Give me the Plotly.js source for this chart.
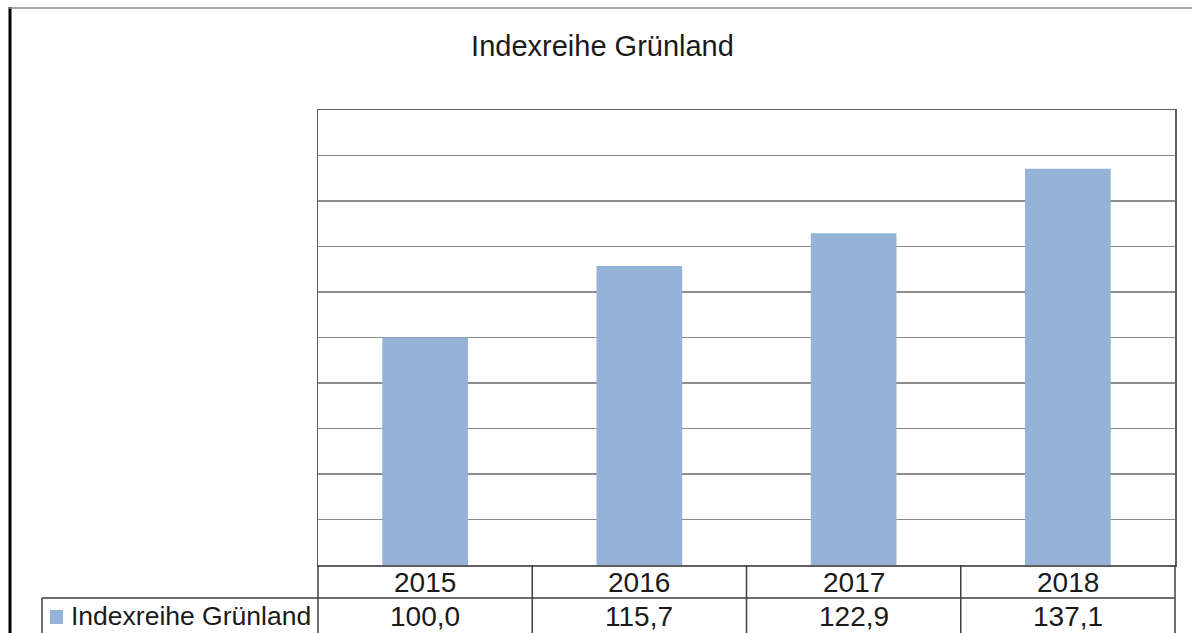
<!DOCTYPE html>
<html>
<head>
<meta charset="utf-8">
<script src="https://cdn.plot.ly/plotly-3.0.1.min.js"></script>
<style>
html,body{margin:0;padding:0;background:#fff;}
#chart{width:1194px;height:633px;}
</style>
</head>
<body>
<div id="chart"></div>
<script>
const categories = ["2015", "2016", "2017", "2018"];
const values = [100.0, 115.7, 122.9, 137.1];
const seriesName = "Indexreihe Grünland";
const chartTitle = "Indexreihe Grünland";

const FONT = "Liberation Sans, Arial, sans-serif";
const barColor = "#95B3D7";
const tableLine = "#3f3f3f";

// pixel geometry helpers (layout only)
const W = 1194, H = 633, L = 318, R = 1175, T = 110, B = 565;
const px = x => (x - L) / (R - L);
const py = y => (B - y) / (B - T);

const fmt = v => v.toFixed(1).replace('.', ',');

const annotations = [];
categories.forEach((c, i) => {
  annotations.push({x: i, xref: 'x', y: py(582), yref: 'paper',
    text: c, showarrow: false, xanchor: 'center', yanchor: 'middle',
    font: {family: FONT, size: 28, color: '#1a1a1a'}});
  annotations.push({x: i, xref: 'x', y: py(616), yref: 'paper',
    text: fmt(values[i]), showarrow: false, xanchor: 'center', yanchor: 'middle',
    font: {family: FONT, size: 28, color: '#1a1a1a'}});
});
annotations.push({x: px(69), xref: 'paper', y: py(616), yref: 'paper',
  text: seriesName, showarrow: false, xanchor: 'left', yanchor: 'middle',
  font: {family: FONT, size: 26.5, color: '#1a1a1a'}});

const shapes = [];
const bottom = py(660);
// frame
shapes.push({type: 'line', xref: 'paper', yref: 'paper', x0: px(10), x1: px(10), y0: py(7), y1: bottom,
  line: {color: '#000', width: 3}});
shapes.push({type: 'line', xref: 'paper', yref: 'paper', x0: px(9), x1: px(1192), y0: py(8), y1: py(8),
  line: {color: '#8a8a8a', width: 1.5}});
// table horizontal line
shapes.push({type: 'line', xref: 'paper', yref: 'paper', x0: px(42), x1: 1, y0: py(598), y1: py(598),
  line: {color: tableLine, width: 1.5}});
// legend cell left border
shapes.push({type: 'line', xref: 'paper', yref: 'paper', x0: px(42), x1: px(42), y0: py(598), y1: bottom,
  line: {color: tableLine, width: 1.5}});
// left and right verticals
shapes.push({type: 'line', xref: 'paper', yref: 'paper', x0: 0, x1: 0, y0: 0, y1: bottom,
  line: {color: tableLine, width: 1.5}});
shapes.push({type: 'line', xref: 'paper', yref: 'paper', x0: 1, x1: 1, y0: 0, y1: bottom,
  line: {color: tableLine, width: 1.5}});
// category separators
for (let i = 0; i < categories.length - 1; i++) {
  shapes.push({type: 'line', xref: 'x', yref: 'paper', x0: i + 0.5, x1: i + 0.5, y0: 0, y1: bottom,
    line: {color: tableLine, width: 1.5}});
}
// legend marker
shapes.push({type: 'rect', xref: 'paper', yref: 'paper', x0: px(50), x1: px(63), y0: py(610), y1: py(624),
  fillcolor: barColor, line: {width: 0}});

const trace = {
  type: 'bar', x: categories, y: values, name: seriesName,
  marker: {color: barColor, line: {width: 0}},
  hoverinfo: 'x+y'
};

const layout = {
  width: W, height: H,
  margin: {l: L, r: W - R, t: T, b: H - B, pad: 0},
  paper_bgcolor: '#fff', plot_bgcolor: '#fff',
  showlegend: false,
  bargap: 0.6,
  title: {text: chartTitle, x: 602.5 / W, xref: 'container', xanchor: 'center',
    y: 1 - 46 / H, yref: 'container', yanchor: 'middle',
    font: {family: FONT, size: 29, color: '#1a1a1a'}},
  xaxis: {type: 'category', range: [-0.5, categories.length - 0.5], autorange: false,
    showticklabels: false, ticks: '', showgrid: false, zeroline: false,
    showline: true, mirror: true, linecolor: '#5f5f5f', linewidth: 1.5, fixedrange: true},
  yaxis: {range: [50, 150], dtick: 10, tick0: 50, showticklabels: false, ticks: '',
    showgrid: true, gridcolor: '#8c8c8c', gridwidth: 1.2, zeroline: false,
    showline: true, mirror: true, linecolor: '#5f5f5f', linewidth: 1.5, fixedrange: true},
  annotations: annotations,
  shapes: shapes
};

Plotly.newPlot('chart', [trace], layout, {displayModeBar: false, staticPlot: true});
</script>
</body>
</html>
